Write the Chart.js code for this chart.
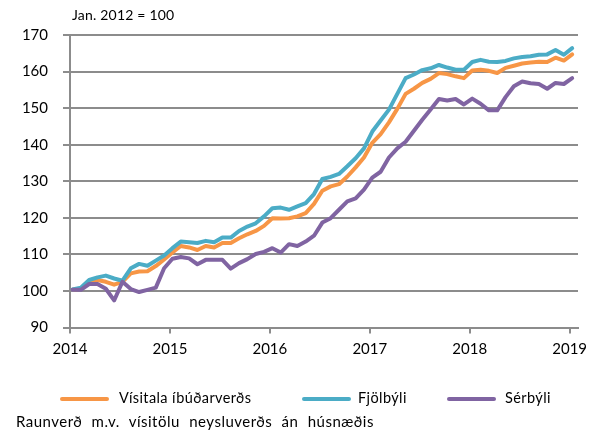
<!DOCTYPE html>
<html>
<head>
<meta charset="utf-8">
<script src="https://cdn.jsdelivr.net/npm/chart.js@4"></script>
<style>
  body { margin: 0; background: #fff; }
  #wrap { position: relative; width: 595px; height: 435px; font-family: Lato, sans-serif; color: #000; }
  #chart { position: absolute; left: 0; top: 0; }
  .base { position: absolute; left: 72px; top: 6px; font-size: 14px; letter-spacing: 0.2px; }
  .legend span { position: absolute; top: 389px; font-size: 14.5px; letter-spacing: 0.4px; white-space: nowrap; }
  .legend i { position: absolute; top: 397px; width: 49px; height: 4px; border-radius: 2px; }
  .foot { position: absolute; left: 16px; top: 412px; font-size: 15px; letter-spacing: 0.5px; word-spacing: 5px; white-space: nowrap; }
</style>
</head>
<body>
<div id="wrap">
  <canvas id="chart" width="595" height="435"></canvas>
  <div class="base">Jan. 2012 = 100</div>
  <div class="legend">
    <i style="left:60px;background:#F79646"></i><span style="left:119px">Vísitala íbúðarverðs</span>
    <i style="left:302px;background:#4BACC6"></i><span style="left:358px">Fjölbýli</span>
    <i style="left:447px;background:#8064A2"></i><span style="left:505px">Sérbýli</span>
  </div>
  <div class="foot">Raunverð m.v. vísitölu neysluverðs án húsnæðis</div>
</div>
<script>
  // monthly, Jan 2014 - Jan 2019
  const yearLabels = ['2014', '2015', '2016', '2017', '2018', '2019'];
  const yearTicks = [0, 12, 24, 36, 48, 60];
  const yTicks = [90, 100, 110, 120, 130, 140, 150, 160, 170];

  const visitala = [
    100.3, 100.6, 102.8, 103.0, 102.5, 101.7, 102.5, 104.8, 105.3, 105.4, 106.8, 108.6,
    110.5, 112.3, 111.9, 111.2, 112.3, 111.9, 113.1, 113.1, 114.4, 115.5, 116.4, 117.8,
    119.9, 119.8, 119.9, 120.4, 121.3, 123.8, 127.4, 128.6, 129.2, 131.3, 133.8, 136.5,
    140.5, 142.9, 146.1, 149.8, 153.9, 155.3, 156.9, 158.0, 159.6, 159.3, 158.7, 158.2,
    160.3, 160.5, 160.2, 159.6, 161.0, 161.6, 162.2, 162.5, 162.7, 162.6, 163.8, 163.0,
    164.7
  ];
  const fjolbyli = [
    100.4, 100.9, 103.0, 103.7, 104.2, 103.4, 102.8, 106.2, 107.4, 106.9, 108.3, 109.7,
    111.7, 113.5, 113.3, 113.1, 113.7, 113.3, 114.6, 114.6, 116.4, 117.6, 118.5, 120.4,
    122.6, 122.8, 122.2, 123.1, 124.0, 126.5, 130.6, 131.2, 132.0, 134.1, 136.3, 139.0,
    143.6, 146.6, 149.6, 153.9, 158.2, 159.2, 160.4, 160.9, 161.8, 161.1, 160.5, 160.5,
    162.6, 163.2, 162.7, 162.6, 162.9, 163.6, 164.0, 164.2, 164.6, 164.7, 165.9, 164.6,
    166.4
  ];
  const serbyli = [
    100.3, 100.3, 101.9, 101.9, 100.6, 97.4, 102.5, 100.5, 99.7, 100.3, 100.9, 106.2,
    108.8, 109.3, 108.9, 107.3, 108.5, 108.5, 108.5, 106.1, 107.6, 108.7, 110.1, 110.7,
    111.7, 110.5, 112.8, 112.3, 113.5, 115.1, 118.7, 119.9, 122.2, 124.5, 125.3, 127.7,
    131.0, 132.6, 136.5, 139.0, 140.8, 143.8, 146.8, 149.6, 152.5, 152.1, 152.5, 151.0,
    152.6, 151.2, 149.4, 149.4, 153.0, 156.0, 157.3, 156.8, 156.6, 155.3, 156.9, 156.6,
    158.2
  ];

  const monthOffset = 0.3;
  const toPoints = vals => vals.map((v, i) => ({ x: i + monthOffset, y: v }));
  const gridColor = '#8c8c8c';
  const tickFont = { family: 'Lato', size: 15 };

  const line = (label, vals, color, order) => ({
    label, data: toPoints(vals), borderColor: color, backgroundColor: color,
    borderWidth: 4, pointRadius: 0, tension: 0, fill: false,
    borderJoinStyle: 'round', borderCapStyle: 'round', order
  });

  new Chart(document.getElementById('chart').getContext('2d'), {
    type: 'line',
    data: {
      datasets: [
        line('Vísitala íbúðarverðs', visitala, '#F79646', 3),
        line('Fjölbýli', fjolbyli, '#4BACC6', 2),
        line('Sérbýli', serbyli, '#8064A2', 1)
      ]
    },
    options: {
      responsive: false,
      animation: false,
      layout: { padding: { top: 35, right: 17, left: 0, bottom: 0 } },
      plugins: { legend: { display: false }, tooltip: { enabled: false } },
      scales: {
        x: {
          type: 'linear', min: 0, max: 61,
          afterBuildTicks: s => { s.ticks = yearTicks.map(v => ({ value: v })); },
          afterFit: s => { s.height = 435 - 327.5; },
          grid: { drawOnChartArea: false, tickLength: 6, color: gridColor, lineWidth: 2 },
          border: { color: gridColor, width: 2 },
          ticks: { padding: 7, maxRotation: 0, color: '#000', font: tickFont,
            callback: v => yearLabels[yearTicks.indexOf(v)] }
        },
        y: {
          min: 90, max: 170,
          afterBuildTicks: s => { s.ticks = yTicks.map(v => ({ value: v })); },
          afterFit: s => { s.width = 70; },
          grid: { color: gridColor, lineWidth: 2, tickLength: 7 },
          border: { color: gridColor, width: 2 },
          ticks: { padding: 15, color: '#000', font: tickFont }
        }
      }
    }
  });
</script>
</body>
</html>
